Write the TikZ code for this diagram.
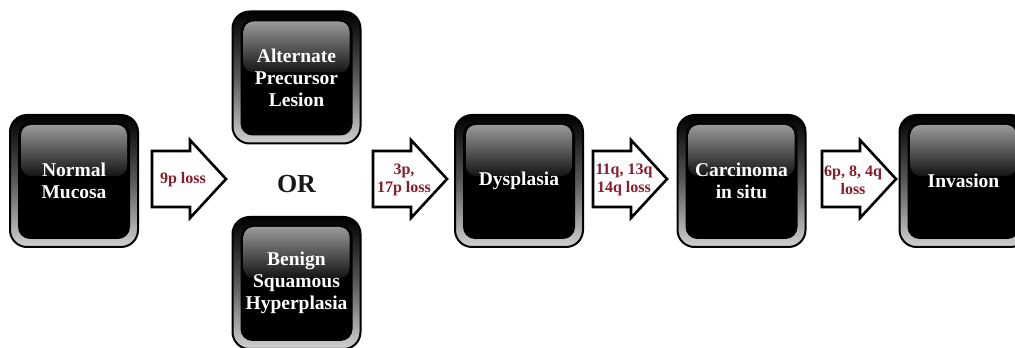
\documentclass[tikz,border=0pt]{standalone}
\usepackage{fontspec}
\setmainfont{Liberation Serif}
\usetikzlibrary{calc}
\definecolor{lossred}{RGB}{135,28,42}
\tikzset{
  stage box/.style={rounded corners=17pt,minimum width=128pt,minimum height=132pt,inner sep=0pt,
    draw=black,line width=2pt,top color=black,bottom color=black!18,middle color=black!65,
    text=white,align=center,font=\fontsize{19.5}{22}\selectfont\bfseries,
    path picture={
      \fill[black,rounded corners=12pt] ($(path picture bounding box.south west)+(8pt,8pt)$) rectangle ($(path picture bounding box.north east)+(-8pt,-8pt)$);
      \shade[top color=black!40,bottom color=black!92,rounded corners=10pt] ($(path picture bounding box.north west)+(11pt,-61pt)$) rectangle ($(path picture bounding box.north east)+(-11pt,-10pt)$);
    }},
  loss arrow/.style={draw=black,fill=white,line width=2.6pt},
  loss label/.style={text=lossred,align=center,font=\fontsize{16}{18}\selectfont\bfseries,inner sep=0pt},
}

\begin{document}
\begin{tikzpicture}[x=1pt,y=1pt]
  \useasboundingbox (0,0) rectangle (1015,348);
  \node[stage box] (normal) at (74,167) {Normal\\Mucosa};
  \node[stage box] (alternate) at (296.5,270.5) {Alternate\\Precursor\\Lesion};
  \node[text=black!90,font=\fontsize{26}{26}\selectfont\bfseries] (or) at (296.5,164) {OR};
  \node[stage box] (benign) at (296.5,65) {Benign\\Squamous\\Hyperplasia};
  \node[stage box] (dysplasia) at (519,167) {Dysplasia};
  \node[stage box] (carcinoma) at (741.5,167) {Carcinoma\\in situ};
  \node[stage box] (invasion) at (963.5,167) {Invasion};
  % block arrows carrying the chromosome losses
  \foreach \ax/\loss [count=\i] in {152/{9p loss},373/{3p,\\17p loss},593/{11q, 13q\\14q loss},822/{6p, 8, 4q\\loss}} {
    \draw[loss arrow] (\ax,141) -- ++(38,0) -- ++(0,-11) -- ++(36,39) -- ++(-36,39) -- ++(0,-11) -- ++(-38,0) -- cycle;
    \node[loss label] (loss\i) at (\ax+31,168) {\loss};
  }
\end{tikzpicture}
\end{document}
